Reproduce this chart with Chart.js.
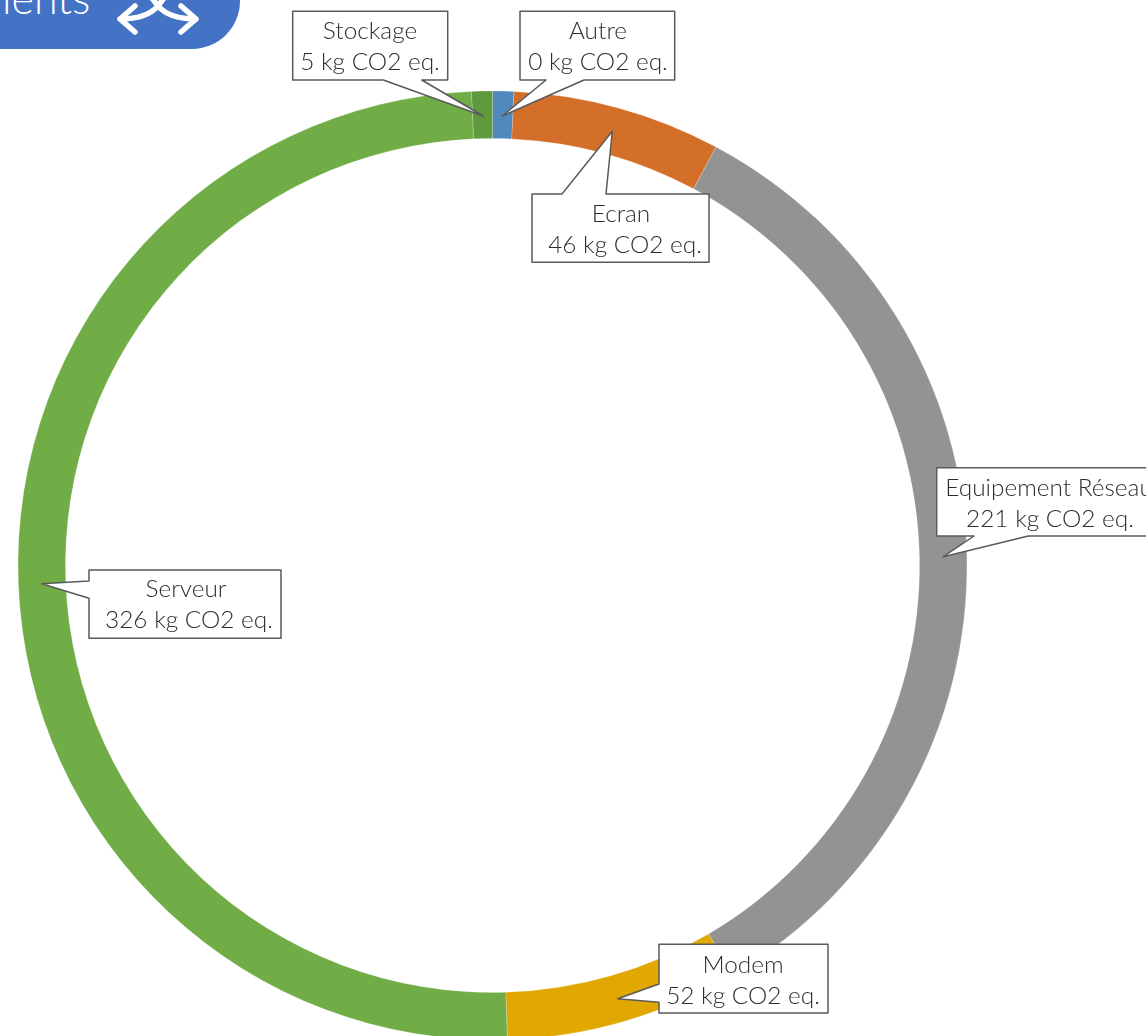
<!DOCTYPE html>
<html><head><meta charset="utf-8">
<style>
html,body{margin:0;padding:0;width:1146px;height:1036px;overflow:hidden;background:#fff}
#wrap{position:absolute;left:0;top:0;width:1146px;height:1146px}
#tab{position:absolute;left:-10px;top:-20px;width:250px;height:69px;background:#4472C4;border-bottom-right-radius:48px;overflow:hidden}
#tabtxt{position:absolute;left:2px;top:-24px;color:#fff;font:300 43px Lato,sans-serif;line-height:43px;white-space:nowrap}
#ico{position:absolute;left:0;top:0}
</style>
</head><body>
<div id="wrap"><canvas id="c" width="1146" height="1146"></canvas></div>
<div id="tab"></div>
<div id="tabtxt">ients</div>
<svg id="ico" width="240" height="48" fill="none" stroke="#fff" stroke-width="5.5" stroke-linecap="round" stroke-linejoin="round">
<path d="M135 6 L120 19 L135 32 M181 6 L196 19 L181 32 M120 19 C138 19 150 15 158 6 L164 -2 M196 19 C178 19 166 15 158 6 L152 -2"/>
</svg>
<script src="https://cdn.jsdelivr.net/npm/chart.js@4"></script>
<script>
const categories = ['Autre','Ecran','Equipement Réseau','Modem','Serveur','Stockage'];
const values = [4.7,46.4,221,52,326,4.6];
const valueLabels = ['0 kg CO2 eq.','46 kg CO2 eq.','221 kg CO2 eq.','52 kg CO2 eq.','326 kg CO2 eq.','5 kg CO2 eq.'];
const colors = ['#4F89BD','#D46F2A','#939393','#E0A800','#70AD47','#5F993C'];

const FONT = '300 24.4px Lato, sans-serif';
const boxes = [
 {r:[520,11.3,674.7,80],   p:[[584,80],[502.3,116],[546,80]], t:[[598,31.5],[598,62.5]]},
 {r:[532,194,709,262.3],   p:[[562,194],[612.3,131.3],[606,194]], t:[[621,214.5],[625,245.5]]},
 {r:[936.7,467.7,1160,536],p:[[1028.3,536],[943.3,556.7],[974,536]], t:[[1049,488.5],[1050,519.5]]},
 {r:[659,944.3,828,1013],  p:[[659,1002.3],[617.7,998.7],[659,984]], t:[[743,965.5],[743,996.5]]},
 {r:[89,570,281,638.3],    p:[[89,598.3],[41.7,583.7],[89,581]], t:[[186,589.5],[189,620.5]]},
 {r:[292.7,11.3,447.7,80], p:[[421.7,80],[483.3,116],[383.3,80]], t:[[370,31.5],[370,62.5]]}
];
const callouts = {
  id:'callouts',
  afterDatasetsDraw(chart){
    const g = chart.ctx;
    g.save();
    boxes.forEach((b,i)=>{
      const [x0,y0,x1,y1] = b.r;
      const [a,tip,c] = b.p;
      const pts = [[x0,y0],[x1,y0],[x1,y1],[x0,y1]];
      let side;
      if (a[1]===y0) side=0; else if (a[0]===x1) side=1; else if (a[1]===y1) side=2; else side=3;
      let first=a, last=c;
      const forward = side===0 ? a[0]<c[0] : side===2 ? a[0]>c[0] : side===1 ? a[1]<c[1] : a[1]>c[1];
      if(!forward){first=c; last=a;}
      g.beginPath();
      g.moveTo(pts[0][0],pts[0][1]);
      for(let k=0;k<4;k++){
        if(k>0) g.lineTo(pts[k][0],pts[k][1]);
        if(k===side){ g.lineTo(first[0],first[1]); g.lineTo(tip[0],tip[1]); g.lineTo(last[0],last[1]); }
      }
      g.closePath();
      g.fillStyle='#fff'; g.fill();
      g.strokeStyle='#5a5a5a'; g.lineWidth=1.5; g.lineJoin='round'; g.stroke();
      g.fillStyle='#2e2e2e'; g.font=FONT; g.textAlign='center'; g.textBaseline='middle';
      g.fillText(categories[i],b.t[0][0],b.t[0][1]);
      g.fillText(valueLabels[i],b.t[1][0],b.t[1][1]);
    });
    g.restore();
  }
};

new Chart(document.getElementById('c'),{
  type:'doughnut',
  data:{labels:categories,datasets:[{data:values,backgroundColor:colors,borderColor:'rgba(255,255,255,0.2)',borderWidth:1}]},
  options:{
    responsive:false,animation:false,cutout:'90%',
    layout:{padding:{left:17.5,right:178.5,top:90.5,bottom:105.5}},
    plugins:{legend:{display:false},tooltip:{enabled:false}}
  },
  plugins:[callouts]
});
</script>
</body></html>
